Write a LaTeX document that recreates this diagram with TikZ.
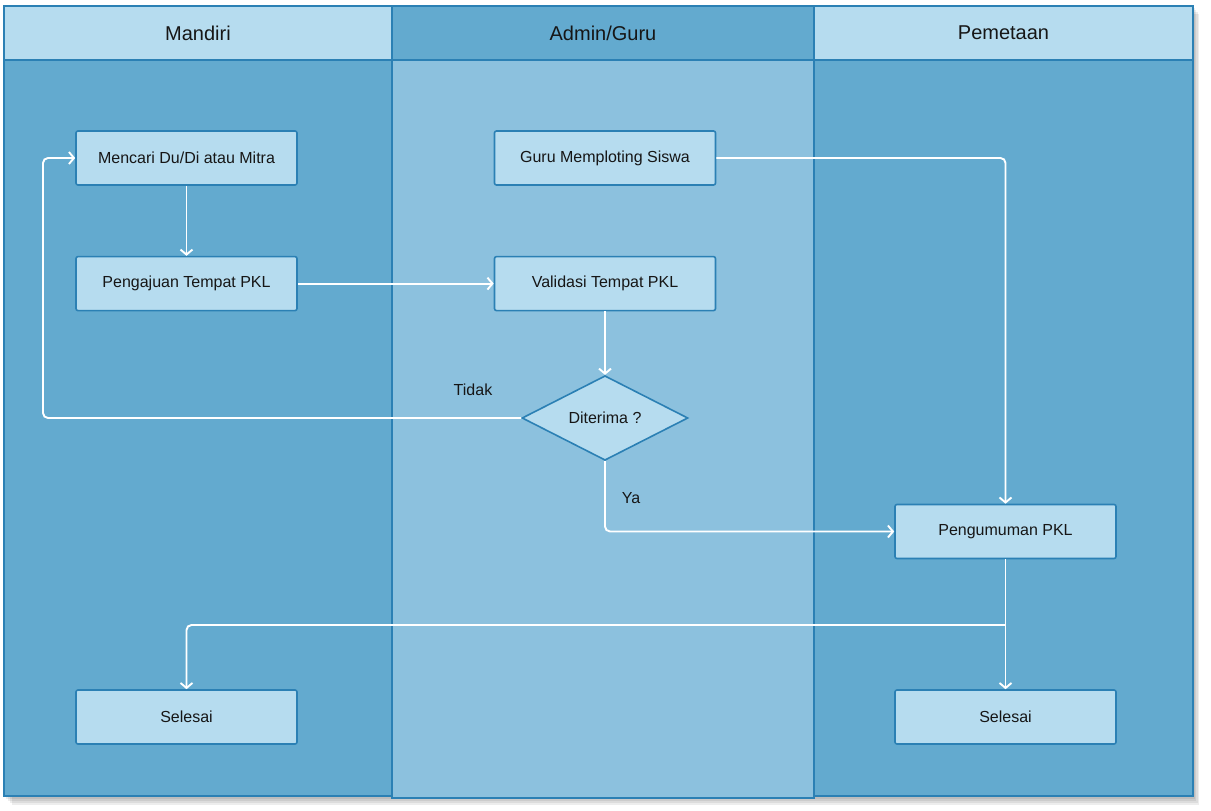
\documentclass[tikz,border=0pt]{standalone}
\usepackage{fontspec}
\setmainfont{Liberation Sans}
\usetikzlibrary{positioning}
\usetikzlibrary{shapes.geometric,arrows.meta}
\definecolor{lanedark}{HTML}{63AACF}
\definecolor{lanemid}{HTML}{8CC1DE}
\definecolor{lanelight}{HTML}{B6DCEF}
\definecolor{laneline}{HTML}{2B80B4}
\definecolor{ink}{HTML}{161616}

\begin{document}
\begin{tikzpicture}[x=1pt,y=-1pt,
  lane/.style={draw=laneline,line width=1.6pt},
  lanehead/.style={text=ink,font=\fontsize{20}{24}\selectfont},
  task/.style={draw=laneline,fill=lanelight,line width=1.6pt,rounded corners=2pt,
    minimum width=221pt,minimum height=54pt,text=ink,font=\fontsize{16}{19}\selectfont},
  choice/.style={diamond,draw=laneline,fill=lanelight,line width=1.6pt,inner sep=0pt,
    minimum width=166pt,minimum height=84pt,text=ink,font=\fontsize{16}{19}\selectfont},
  tag/.style={text=ink,font=\fontsize{16}{19}\selectfont},
  flow/.style={draw=white,line width=1.9pt,rounded corners=5pt,
    -{Straight Barb[length=5pt,width=12pt]}},
  node distance=70pt]
\fill[white] (0,0) rectangle (1211,811);
% shadow
\foreach \s in {2,4,6,8}
  \fill[black,opacity=.07] (4+\s,6+\s) rectangle (1193+\s*.8,797+\s);
% lanes
\draw[lane,fill=lanedark] (4,60) rectangle (392,796);
\draw[lane,fill=lanelight] (4,6) rectangle (392,60);
\draw[lane,fill=lanedark] (814,60) rectangle (1193,796);
\draw[lane,fill=lanelight] (814,6) rectangle (1193,60);
\draw[lane,fill=lanemid] (392,60) rectangle (814,798);
\draw[lane,fill=lanedark] (392,6) rectangle (814,60);
\node[lanehead] (hmandiri) at (198,33) {Mandiri};
\node[lanehead] (hadmin) at (603,33) {Admin/Guru};
\node[lanehead] (hpeta) at (1003.5,33) {Pemetaan};

% steps
\node[task] (cari) at (186.5,158) {Mencari Du/Di atau Mitra};
\node[task, below=of cari] (aju) {Pengajuan Tempat PKL};
\node[task] (plot) at (605,158) {Guru Memploting Siswa};
\node[task, below=of plot] (valid) {Validasi Tempat PKL};
\node[choice] (terima) at (605,418) {Diterima ?};
\node[task] (umum) at (1005.5,531.5) {Pengumuman PKL};
\node[task] (selesaia) at (186.5,717) {Selesai};
\node[task] (selesaib) at (1005.5,717) {Selesai};
\node[tag] (tidak) at (473,390) {Tidak};
\node[tag] (ya) at (631,498) {Ya};
\coordinate (balik) at (43,418);
\coordinate (cabang) at (1005.5,625);

% flow
\draw[flow] (cari) -- (aju);
\draw[flow] (aju) -- (valid);
\draw[flow] (valid) -- (terima);
\draw[flow] (terima) -- (balik) |- (cari);
\draw[flow] (terima) |- (umum);
\draw[flow] (plot) -| (umum);
\draw[flow] (umum) -- (selesaib);
\draw[flow] (cabang) -| (selesaia);
\end{tikzpicture}
\end{document}
